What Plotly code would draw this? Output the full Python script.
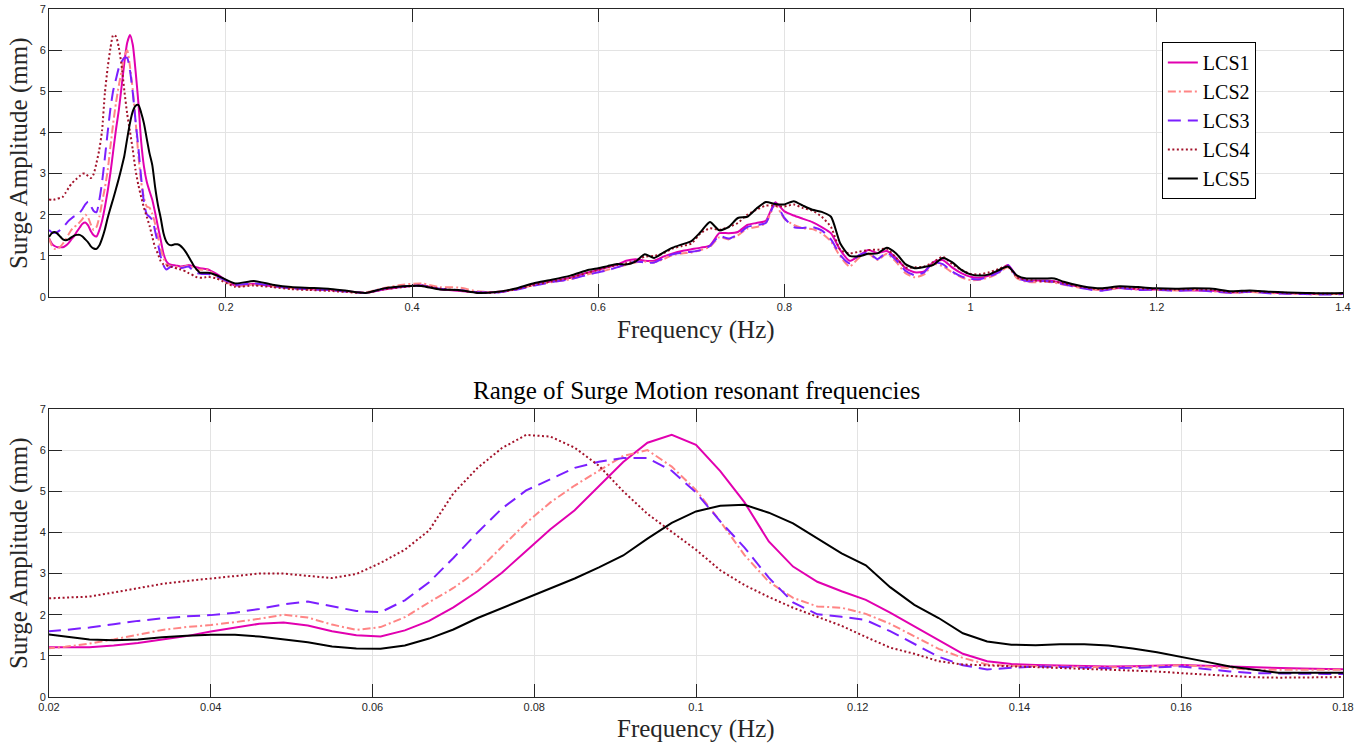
import plotly.graph_objects as go

# ---------------- data ----------------
freq_low = [0.010, 0.013, 0.016, 0.019, 0.022, 0.025, 0.028, 0.031, 0.034, 0.037,
            0.040, 0.043, 0.046, 0.049, 0.052, 0.055, 0.058, 0.061, 0.064, 0.067,
            0.070, 0.073, 0.076, 0.079, 0.082, 0.085, 0.088, 0.091, 0.094, 0.097,
            0.100, 0.103, 0.106, 0.109, 0.112, 0.115, 0.118, 0.121, 0.124, 0.127,
            0.130, 0.133, 0.136, 0.139, 0.142, 0.145, 0.148, 0.151, 0.154, 0.157,
            0.160, 0.163, 0.166, 0.169, 0.172, 0.175, 0.178, 0.181]

freq_high = [0.19, 0.21, 0.23, 0.25, 0.27, 0.29, 0.31, 0.33, 0.35, 0.37,
             0.39, 0.41, 0.43, 0.45, 0.47, 0.49, 0.51, 0.53, 0.55, 0.57, 0.59,
             0.60, 0.61, 0.62, 0.63, 0.64, 0.65, 0.66, 0.67, 0.68, 0.69,
             0.70, 0.71, 0.72, 0.73, 0.74, 0.75, 0.76, 0.77, 0.78, 0.79,
             0.80, 0.81, 0.82, 0.83, 0.84, 0.85, 0.86, 0.87, 0.88, 0.89,
             0.90, 0.91, 0.92, 0.93, 0.94, 0.95, 0.96, 0.97, 0.98, 0.99,
             1.00, 1.01, 1.02, 1.03, 1.04, 1.05, 1.06, 1.07, 1.08, 1.09, 1.10,
             1.12, 1.14, 1.16, 1.18, 1.20, 1.22, 1.24, 1.26, 1.28, 1.30,
             1.32, 1.34, 1.36, 1.38, 1.40]

lcs1_low = [1.43, 1.30, 1.24, 1.21, 1.21, 1.21, 1.25, 1.31, 1.40, 1.48,
            1.59, 1.69, 1.78, 1.81, 1.74, 1.60, 1.50, 1.47, 1.62, 1.85,
            2.18, 2.57, 3.02, 3.55, 4.08, 4.54, 5.12, 5.71, 6.18, 6.37,
            6.13, 5.49, 4.73, 3.78, 3.17, 2.80, 2.57, 2.36, 2.05, 1.71,
            1.39, 1.05, 0.87, 0.80, 0.78, 0.77, 0.76, 0.74, 0.75, 0.76,
            0.78, 0.76, 0.74, 0.72, 0.70, 0.69, 0.68, 0.67]
lcs2_low = [1.42, 1.25, 1.17, 1.17, 1.22, 1.30, 1.40, 1.52, 1.63, 1.70,
            1.75, 1.82, 1.90, 2.00, 1.93, 1.76, 1.63, 1.70, 1.94, 2.30,
            2.65, 3.07, 3.66, 4.23, 4.73, 5.14, 5.50, 5.86, 6.00, 5.60,
            5.03, 4.27, 3.45, 2.80, 2.41, 2.20, 2.17, 2.02, 1.78, 1.47,
            1.17, 0.95, 0.79, 0.76, 0.75, 0.74, 0.73, 0.72, 0.73, 0.75,
            0.77, 0.74, 0.70, 0.66, 0.66, 0.66, 0.66, 0.66]
lcs3_low = [1.63, 1.57, 1.56, 1.58, 1.63, 1.69, 1.77, 1.85, 1.91, 1.96,
            1.99, 2.05, 2.14, 2.25, 2.32, 2.21, 2.09, 2.06, 2.35, 2.79,
            3.38, 4.00, 4.58, 5.02, 5.30, 5.57, 5.72, 5.81, 5.81, 5.50,
            4.97, 4.27, 3.63, 2.90, 2.30, 2.01, 1.95, 1.87, 1.60, 1.30,
            0.98, 0.77, 0.67, 0.71, 0.74, 0.73, 0.72, 0.70, 0.71, 0.73,
            0.74, 0.68, 0.62, 0.58, 0.57, 0.56, 0.56, 0.56]
lcs4_low = [2.37, 2.36, 2.37, 2.39, 2.41, 2.44, 2.54, 2.65, 2.75, 2.82,
            2.88, 2.94, 3.00, 3.00, 2.94, 2.89, 2.99, 3.26, 3.58, 4.05,
            4.95, 5.57, 6.05, 6.37, 6.33, 6.06, 5.62, 5.00, 4.45, 4.02,
            3.58, 3.08, 2.72, 2.43, 2.17, 1.95, 1.73, 1.46, 1.20, 1.05,
            0.87, 0.79, 0.77, 0.75, 0.73, 0.71, 0.69, 0.67, 0.65, 0.62,
            0.58, 0.55, 0.51, 0.48, 0.47, 0.47, 0.48, 0.49]
lcs5_low = [1.46, 1.55, 1.58, 1.54, 1.47, 1.40, 1.38, 1.40, 1.45, 1.49,
            1.51, 1.51, 1.47, 1.40, 1.33, 1.23, 1.18, 1.17, 1.25, 1.42,
            1.64, 1.92, 2.16, 2.39, 2.63, 2.88, 3.15, 3.44, 3.85, 4.23,
            4.51, 4.65, 4.67, 4.48, 4.22, 3.85, 3.49, 3.20, 2.67, 2.24,
            1.92, 1.55, 1.35, 1.27, 1.26, 1.28, 1.28, 1.25, 1.18, 1.09,
            0.98, 0.86, 0.74, 0.66, 0.59, 0.59, 0.59, 0.59]

lcs1_high = [0.56, 0.28, 0.32, 0.26, 0.22, 0.19, 0.17, 0.14, 0.10, 0.18,
             0.25, 0.28, 0.19, 0.15, 0.11, 0.12, 0.18, 0.30, 0.38, 0.47, 0.60,
             0.66, 0.72, 0.78, 0.88, 0.92, 0.88, 0.88, 0.98, 1.06, 1.12,
             1.16, 1.20, 1.25, 1.55, 1.55, 1.58, 1.75, 1.80, 1.85, 2.30,
             2.08, 1.98, 1.90, 1.82, 1.70, 1.55, 1.14, 0.88, 1.00, 1.14,
             1.07, 1.12, 0.95, 0.70, 0.60, 0.62, 0.85, 0.90, 0.72, 0.58,
             0.49, 0.47, 0.52, 0.62, 0.78, 0.50, 0.40, 0.40, 0.40, 0.38, 0.33,
             0.23, 0.18, 0.22, 0.19, 0.18, 0.17, 0.16, 0.15, 0.11, 0.13,
             0.11, 0.09, 0.08, 0.07, 0.07]
lcs2_high = [0.50, 0.27, 0.30, 0.27, 0.22, 0.19, 0.17, 0.13, 0.11, 0.22,
             0.30, 0.33, 0.24, 0.23, 0.14, 0.12, 0.19, 0.28, 0.36, 0.43, 0.56,
             0.60, 0.66, 0.72, 0.78, 0.84, 0.86, 0.84, 0.92, 1.02, 1.06,
             1.08, 1.14, 1.22, 1.45, 1.40, 1.50, 1.66, 1.70, 1.80, 2.24,
             1.90, 1.75, 1.67, 1.65, 1.55, 1.35, 0.98, 0.74, 0.95, 1.06,
             0.90, 1.05, 0.85, 0.58, 0.48, 0.55, 0.80, 0.75, 0.60, 0.48,
             0.41, 0.42, 0.48, 0.58, 0.72, 0.45, 0.37, 0.36, 0.37, 0.35, 0.30,
             0.22, 0.17, 0.21, 0.18, 0.17, 0.16, 0.17, 0.14, 0.10, 0.12,
             0.10, 0.08, 0.07, 0.07, 0.07]
lcs3_high = [0.50, 0.30, 0.33, 0.27, 0.21, 0.19, 0.17, 0.13, 0.10, 0.20,
             0.25, 0.28, 0.20, 0.17, 0.12, 0.11, 0.17, 0.27, 0.36, 0.43, 0.55,
             0.60, 0.65, 0.72, 0.80, 0.86, 0.84, 0.84, 0.94, 1.04, 1.08,
             1.10, 1.14, 1.24, 1.48, 1.42, 1.52, 1.70, 1.75, 1.80, 2.28,
             1.92, 1.70, 1.68, 1.70, 1.62, 1.40, 1.02, 0.82, 1.02, 1.08,
             0.92, 1.08, 0.90, 0.64, 0.53, 0.60, 0.84, 0.80, 0.62, 0.50,
             0.44, 0.43, 0.50, 0.60, 0.78, 0.47, 0.39, 0.38, 0.39, 0.36, 0.31,
             0.21, 0.15, 0.22, 0.17, 0.18, 0.15, 0.17, 0.13, 0.10, 0.13,
             0.09, 0.08, 0.07, 0.06, 0.07]
lcs4_high = [0.45, 0.25, 0.28, 0.24, 0.19, 0.17, 0.15, 0.12, 0.10, 0.19,
             0.24, 0.28, 0.20, 0.16, 0.11, 0.11, 0.18, 0.29, 0.38, 0.47, 0.60,
             0.66, 0.72, 0.78, 0.82, 0.88, 0.98, 1.00, 1.06, 1.18, 1.24,
             1.30, 1.55, 1.67, 1.63, 1.70, 1.80, 2.00, 2.12, 2.22, 2.22,
             2.20, 2.25, 2.16, 2.10, 1.95, 1.70, 1.15, 1.06, 1.10, 1.14,
             1.15, 1.17, 0.95, 0.72, 0.72, 0.74, 0.85, 0.98, 0.80, 0.66,
             0.56, 0.55, 0.60, 0.68, 0.75, 0.48, 0.42, 0.40, 0.38, 0.37, 0.33,
             0.24, 0.19, 0.23, 0.21, 0.19, 0.18, 0.19, 0.17, 0.12, 0.14,
             0.12, 0.10, 0.09, 0.08, 0.08]
lcs5_high = [0.53, 0.33, 0.39, 0.30, 0.24, 0.22, 0.20, 0.15, 0.10, 0.21,
             0.26, 0.27, 0.18, 0.17, 0.10, 0.12, 0.20, 0.33, 0.42, 0.52, 0.66,
             0.70, 0.75, 0.80, 0.79, 0.86, 1.04, 0.95, 1.08, 1.20, 1.28,
             1.36, 1.58, 1.82, 1.62, 1.70, 1.92, 1.95, 2.15, 2.31, 2.26,
             2.25, 2.33, 2.22, 2.12, 2.07, 1.95, 1.30, 1.00, 0.99, 1.05,
             1.06, 1.20, 1.06, 0.80, 0.70, 0.73, 0.78, 0.95, 0.85, 0.66,
             0.55, 0.52, 0.55, 0.65, 0.74, 0.52, 0.45, 0.45, 0.45, 0.45, 0.37,
             0.26, 0.21, 0.26, 0.24, 0.21, 0.20, 0.21, 0.20, 0.14, 0.16,
             0.13, 0.11, 0.10, 0.09, 0.10]

series_names = ["LCS1", "LCS2", "LCS3", "LCS4", "LCS5"]
low_values = [lcs1_low, lcs2_low, lcs3_low, lcs4_low, lcs5_low]
high_values = [lcs1_high, lcs2_high, lcs3_high, lcs4_high, lcs5_high]

top_xticks = [0.2, 0.4, 0.6, 0.8, 1.0, 1.2, 1.4]
top_xtext = ["0.2", "0.4", "0.6", "0.8", "1", "1.2", "1.4"]
bot_xticks = [0.02, 0.04, 0.06, 0.08, 0.10, 0.12, 0.14, 0.16, 0.18]
bot_xtext = ["0.02", "0.04", "0.06", "0.08", "0.1", "0.12", "0.14", "0.16", "0.18"]
yticks = [0, 1, 2, 3, 4, 5, 6, 7]

# ---------------- styles ----------------
colors = ["#E100B0", "#FF8585", "#7B1FFF", "#A3132B", "#000000"]
dashes = ["solid", "8px,3px,2px,3px", "13px,7px", "2px,2.5px", "solid"]

SERIF = "Liberation Serif"
SANS = "Liberation Sans"
AX = "#262626"
GRID = "#E3E3E3"

fig = go.Figure()
for name, lo, hi, c, d in zip(series_names, low_values, high_values, colors, dashes):
    fig.add_trace(go.Scatter(
        x=freq_low + freq_high, y=lo + hi, name=name, mode="lines",
        line=dict(color=c, width=2, dash=d, shape="spline", smoothing=0.6),
        xaxis="x", yaxis="y", showlegend=True))
for name, lo, c, d in zip(series_names, low_values, colors, dashes):
    fig.add_trace(go.Scatter(
        x=freq_low, y=lo, name=name, mode="lines",
        line=dict(color=c, width=2, dash=d),
        xaxis="x2", yaxis="y2", showlegend=False))

axis_common = dict(
    showline=True, linecolor=AX, linewidth=1, mirror="ticks",
    ticks="inside", ticklen=13, tickwidth=1, tickcolor=AX,
    showgrid=True, gridcolor=GRID, gridwidth=1, zeroline=False,
    automargin=False,
    tickfont=dict(family=SANS, size=11, color=AX),
)

fig.update_layout(
    width=1369, height=746,
    margin=dict(l=49, r=26, t=9, b=49),
    paper_bgcolor="white", plot_bgcolor="white",
    xaxis=dict(domain=[0, 1], anchor="y", range=[0.01, 1.4],
               tickvals=top_xticks, ticktext=top_xtext, **axis_common),
    yaxis=dict(domain=[0.5814, 1.0], anchor="x", range=[0, 7],
               tickvals=yticks, **axis_common),
    xaxis2=dict(domain=[0, 1], anchor="y2", range=[0.02, 0.18],
                tickvals=bot_xticks, ticktext=bot_xtext, **axis_common),
    yaxis2=dict(domain=[0, 0.4186], anchor="x2", range=[0, 7],
                tickvals=yticks, **axis_common),
    legend=dict(x=0.860, y=0.952, xanchor="left", yanchor="top",
                bgcolor="white", bordercolor="#000000", borderwidth=1,
                font=dict(family=SERIF, size=20, color="#000000"),
                itemwidth=30, tracegroupgap=0),
    showlegend=True,
)

TFS = 25
annotations = [
    dict(text="Frequency (Hz)", x=0.5, y=0.5334, xref="paper", yref="paper",
         showarrow=False, xanchor="center", yanchor="middle",
         font=dict(family=SERIF, size=TFS, color="#262626")),
    dict(text="Frequency (Hz)", x=0.5, y=-0.0465, xref="paper", yref="paper",
         showarrow=False, xanchor="center", yanchor="middle",
         font=dict(family=SERIF, size=TFS, color="#262626")),
    dict(text="Surge Amplitude (mm)", x=-0.0232, y=0.7907, xref="paper", yref="paper",
         showarrow=False, xanchor="center", yanchor="middle", textangle=-90,
         font=dict(family=SERIF, size=TFS, color="#262626")),
    dict(text="Surge Amplitude (mm)", x=-0.0232, y=0.2093, xref="paper", yref="paper",
         showarrow=False, xanchor="center", yanchor="middle", textangle=-90,
         font=dict(family=SERIF, size=TFS, color="#262626")),
    dict(text="Range of Surge Motion resonant frequencies", x=0.5, y=0.4448,
         xref="paper", yref="paper", showarrow=False, xanchor="center", yanchor="middle",
         font=dict(family=SERIF, size=TFS, color="#000000")),
]
fig.update_layout(annotations=annotations)

fig.write_html("out.html")
